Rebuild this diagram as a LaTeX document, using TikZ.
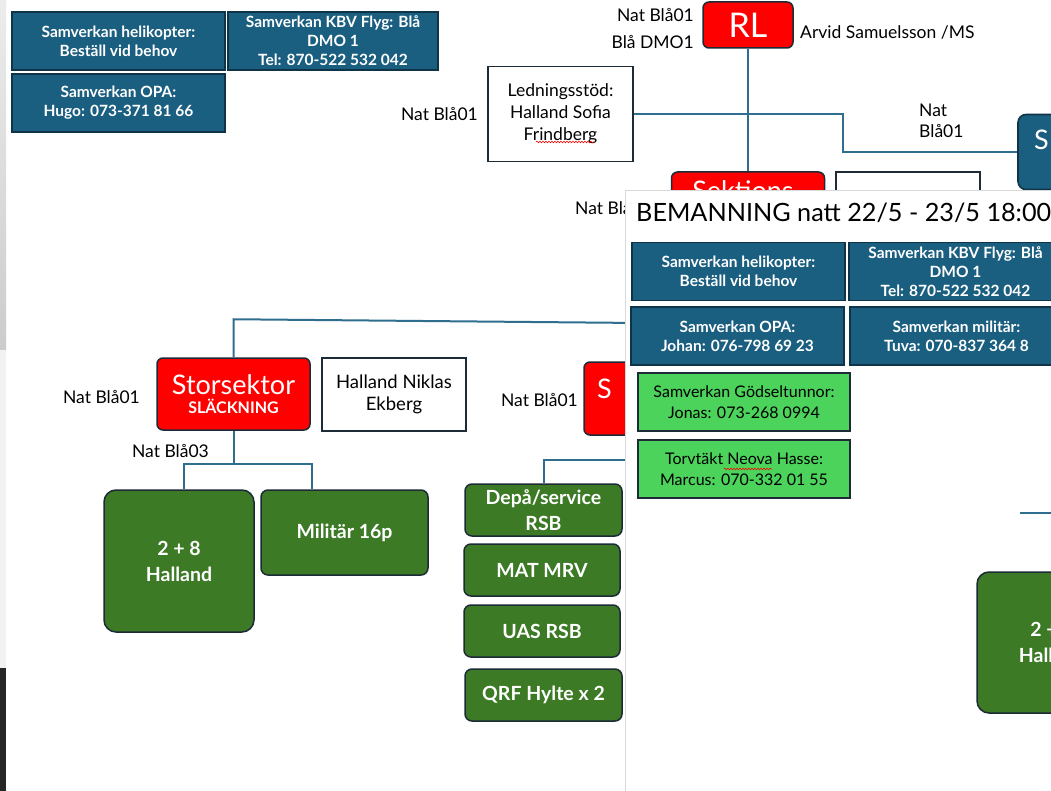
\documentclass[tikz,border=0pt]{standalone}
\usepackage{fontspec}
\setmainfont{Lato}
\usetikzlibrary{decorations.pathmorphing}

\definecolor{boxblue}{HTML}{1A5E80}
\definecolor{edgeblue}{HTML}{0F3447}
\definecolor{linkblue}{HTML}{2F6E8E}
\definecolor{signred}{HTML}{FF0000}
\definecolor{darkgreen}{HTML}{3C7A26}
\definecolor{lightgreen}{HTML}{4BD35B}
\definecolor{edgedark}{HTML}{1C2B36}

\tikzset{
  bluebox/.style={draw=edgeblue, line width=1.6pt, fill=boxblue, text=white, align=center,
    font=\fontsize{15.5}{19}\selectfont\bfseries, minimum width=213pt, minimum height=58pt, inner sep=0pt},
  tipbox/.style={bluebox, fill=lightgreen, draw=edgedark, text=black, minimum width=212pt,
    font=\fontsize{16}{21}\selectfont},
  redbox/.style={draw=edgedark, line width=1.5pt, fill=signred, text=white, align=center,
    rounded corners=6pt, inner sep=0pt},
  whitebox/.style={draw=edgedark, line width=1.5pt, fill=white, align=center, inner sep=0pt,
    font=\fontsize{17.5}{22}\selectfont},
  greenbox/.style={draw=edgedark, line width=1.5pt, fill=darkgreen, text=white, align=center,
    rounded corners=7pt, inner sep=0pt, font=\fontsize{19.5}{26}\selectfont\bfseries},
  lbl/.style={font=\fontsize{17.5}{21}\selectfont, inner sep=0pt},
  conn/.style={draw=linkblue, line width=2pt},
  spell/.style={draw=red, line width=0.6pt, decorate,
    decoration={snake, amplitude=0.8pt, segment length=3pt}}
}

\begin{document}
\begin{tikzpicture}[x=1pt,y=-1pt]
    \clip (0,0) rectangle (1051,791);
    \fill [white] (0,0) rectangle (1051,791);
    \shade [top color=gray!15, bottom color=gray!40] (0,0) rectangle (6,350);
    \fill [gray!10] (0,350) rectangle (6,668);
    \fill [black!85] (0,668) rectangle (6,791);

    % contacts
    \path (118.5, 41) node [bluebox] (heli) {Samverkan helikopter:\\Beställ vid behov};
    \path (  333, 41) node [bluebox,minimum width=210pt] (kbv) {Samverkan KBV Flyg: Blå\\DMO 1\\Tel: 870-522 532 042};
    \path (118.5,103) node [bluebox] (opa) {Samverkan OPA:\\Hugo: 073-371 81 66};

    % top of the chart
    \path (  748, 25) node [redbox,minimum width=90pt,minimum height=46pt,font=\fontsize{34}{34}\selectfont] (rl) {RL};
    \path (  694, 29) node [lbl,anchor=east,align=right,font=\fontsize{17.5}{27}\selectfont] (rlnat) {Nat Blå01\\Blå DMO1};
    \path (  800, 32) node [lbl,anchor=west] (arvid) {Arvid Samuelsson /MS};
    \path (560.5,114) node [whitebox,minimum width=145pt,minimum height=95pt] (stod) {Ledningsstöd:\\Halland Sofia\\Frindberg};
    \path (  478,114) node [lbl,anchor=east] (stodnat) {Nat Blå01};
    \path ( 1060,152) node [bluebox,rounded corners=8pt,minimum width=84pt,minimum height=75pt] (sbox) {};
    \path ( 1034,140) node [lbl,anchor=west,text=white,font=\fontsize{27}{27}\selectfont] (stext) {S};
    \path (  919,121) node [lbl,anchor=west,align=left] (snat) {Nat\\Blå01};
    \path (  748,210) node [redbox,minimum width=153pt,minimum height=76pt] (sekt) {};
    \path (  748,201) node [lbl,anchor=base,text=white,font=\fontsize{27}{27}\selectfont] (sekttext) {Sektions-};
    \path (  908,210) node [whitebox,minimum width=144pt,minimum height=76pt] (sektman) {};
    \path (  575,208) node [lbl,anchor=west] (sektnat) {Nat Blå01};
    \coordinate (bend) at (843,152);
    \draw [conn] (rl) -- (sekt);
    \draw [conn] (stod) -- (stod -| rl);
    \draw [conn] (stod -| rl) -| (bend) -- (sbox);
    \draw [spell] (536,142) -- (594,142);

    % first sector
    \coordinate (hub) at (748,324);
    \path (233.5,394) node [redbox,minimum width=153pt,minimum height=72pt] (stor) {{\fontsize{27}{27}\selectfont Storsektor}\\[4pt]{\fontsize{16}{16}\selectfont\bfseries SLÄCKNING}};
    \path (  394,394.5) node [whitebox,minimum width=144pt,minimum height=73pt,font=\fontsize{18.5}{22}\selectfont] (niklas) {Halland Niklas\\Ekberg};
    \path (  140,397) node [lbl,anchor=east] (stornat) {Nat Blå01};
    \path (  209,451) node [lbl,anchor=east] (stornat3) {Nat Blå03};
    \path (  179,561) node [greenbox,minimum width=150pt,minimum height=142pt,rounded corners=12pt] (hall) {2 + 8\\Halland};
    \path (344.5,532.5) node [greenbox,minimum width=167pt,minimum height=85pt] (mil) {Militär 16p};
    \coordinate (f1) at (184,464);
    \coordinate (f2) at (312,464);
    \draw [conn] (stor.north) -- ++(0,-38) -- (hub);
    \draw [conn] (stor) -- (stor |- f1);
    \draw [conn] (f1 |- hall.north) |- (f2) -- (f2 |- mil.north);

    % second sector
    \path (660.5,398.5) node [redbox,minimum width=153pt,minimum height=73pt] (sec2) {};
    \path (  597,389) node [lbl,anchor=west,text=white,font=\fontsize{27}{27}\selectfont] (sec2text) {S};
    \path (  578,400) node [lbl,anchor=east] (sec2nat) {Nat Blå01};
    \path (543.5,510) node [greenbox,minimum width=157pt,minimum height=52pt] (dep) {Depå/service\\RSB};
    \path (  542,570) node [greenbox,minimum width=156pt,minimum height=52pt] (mat) {MAT MRV};
    \path (  542,631) node [greenbox,minimum width=156pt,minimum height=52pt] (uas) {UAS RSB};
    \path (543.5,695) node [greenbox,minimum width=157pt,minimum height=52pt] (qrf) {QRF Hylte x 2};
    \coordinate (f3) at (544,460);
    \draw [conn] (f3 |- dep.north) |- (sec2.south |- f3) -- (sec2.south);

    % staffing sheet on top
    \fill [white] (625,190) rectangle (1051,791);
    \draw [gray!30,line width=1pt] (625,791) -- (625,191) -- (1051,191);
    \path (  636,213) node [lbl,anchor=west,font=\fontsize{25.2}{25}\selectfont] (title) {BEMANNING natt 22/5 - 23/5 18:00};
    \path (738.5,271.5) node [bluebox] (heli2) {Samverkan helikopter:\\Beställ vid behov};
    \path (955.5,271.5) node [bluebox] (kbv2) {Samverkan KBV Flyg: Blå\\DMO 1\\Tel: 870-522 532 042};
    \path (737.5,336) node [bluebox] (opa2) {Samverkan OPA:\\Johan: 076-798 69 23};
    \path (956.5,336) node [bluebox] (mil2) {Samverkan militär:\\Tuva: 070-837 364 8};
    \path (  744,402) node [tipbox] (god) {Samverkan Gödseltunnor:\\Jonas: 073-268 0994};
    \path (  744,469) node [tipbox] (torv) {Torvtäkt Neova Hasse:\\Marcus: 070-332 01 55};
    \draw [spell] (724,469) -- (772,469);
    \coordinate (stub) at (1020,513);
    \coordinate (stubend) at (1051,513);
    \draw [conn] (stub) -- (stubend);
    \path ( 1052,642.5) node [greenbox,minimum width=150pt,minimum height=141pt,rounded corners=12pt] (hall2) {2 + 8\\Halland};
\end{tikzpicture}
\end{document}
